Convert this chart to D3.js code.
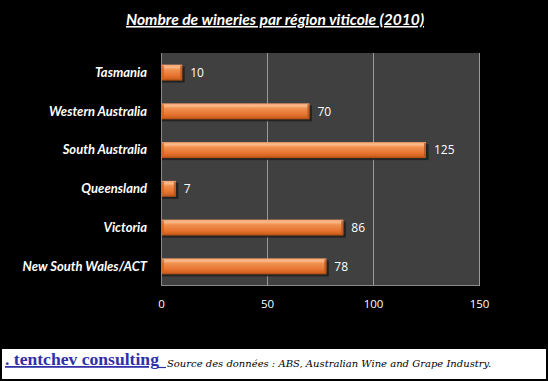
<!DOCTYPE html>
<html><head><meta charset="utf-8">
<script src="https://cdn.jsdelivr.net/npm/d3@7"></script>
<style>html,body{margin:0;padding:0;background:#000;}svg{display:block;}</style>
</head><body>
<script>
const categories = ["Tasmania","Western Australia","South Australia","Queensland","Victoria","New South Wales/ACT"];
const values = [10,70,125,7,86,78];
const tickValues = [0,50,100,150];
const titleText = "Nombre de wineries par région viticole (2010)";
const brandText = ". tentchev consulting";
const sourceText = "Source des données : ABS, Australian Wine and Grape Industry.";

const W=548,H=381;
const svg=d3.select("body").append("svg").attr("width",W).attr("height",H);
svg.append("rect").attr("width",W).attr("height",H).attr("fill","#000");

const defs=svg.append("defs");
const g1=defs.append("linearGradient").attr("id","barg").attr("x1",0).attr("y1",0).attr("x2",0).attr("y2",1);
[[0,"#f4a06a"],[0.15,"#fbba8c"],[0.32,"#f0904f"],[0.7,"#e6732f"],[0.88,"#d2621f"],[1,"#a24813"]].forEach(s=>g1.append("stop").attr("offset",s[0]).attr("stop-color",s[1]));

const x=d3.scaleLinear().domain([0,150]).range([161,479]);
const y=d3.scaleBand().domain(categories).range([53,286]).paddingInner(0.587).paddingOuter(0.3);

// plot area
svg.append("rect").attr("x",x(0)).attr("y",53).attr("width",x(150)-x(0)).attr("height",233).attr("fill","#404040");
// grid
svg.append("g").selectAll("line").data(tickValues.filter(d=>d>0)).join("line")
  .attr("x1",d=>Math.round(x(d))+0.5).attr("x2",d=>Math.round(x(d))+0.5).attr("y1",53).attr("y2",286)
  .attr("stroke","#9a9a9a").attr("stroke-width",1);
svg.append("line").attr("x1",x(0)+0.5).attr("x2",x(0)+0.5).attr("y1",53).attr("y2",286)
  .attr("stroke","#8a8a8a");
svg.append("line").attr("x1",x(0)).attr("x2",x(150)).attr("y1",285.5).attr("y2",285.5)
  .attr("stroke","#8a8a8a");

// bars
const bars=svg.append("g").selectAll("g").data(categories).join("g");
bars.append("rect").attr("x",x(0)+1).attr("y",(d)=>y(d)+2).attr("width",(d,i)=>x(values[i])-x(0)+1.5).attr("height",y.bandwidth())
  .attr("fill","#1e1e1e").attr("opacity",0.85);
bars.append("rect").attr("x",x(0)+1).attr("y",d=>y(d)).attr("width",(d,i)=>x(values[i])-x(0)-1).attr("height",y.bandwidth())
  .attr("fill","url(#barg)");
bars.append("rect").attr("x",(d,i)=>x(values[i])-2).attr("y",d=>y(d)+1).attr("width",2).attr("height",y.bandwidth()-2)
  .attr("fill","#b5541a").attr("opacity",0.8);
bars.append("rect").attr("x",x(0)+1).attr("y",d=>y(d)+1).attr("width",2).attr("height",y.bandwidth()-2)
  .attr("fill","#c9621f").attr("opacity",0.7);
bars.append("text").attr("x",(d,i)=>x(values[i])+8).attr("y",d=>y(d)+y.bandwidth()/2).attr("dy","0.36em")
  .attr("fill","#fff").attr("font-family","Open Sans, DejaVu Sans, sans-serif").attr("font-size",12)
  .text((d,i)=>values[i]);

// y axis labels
const ya=svg.append("g").attr("transform",`translate(${x(0)},0)`).call(d3.axisLeft(y).tickSize(0).tickPadding(14));
ya.select(".domain").remove();
ya.selectAll("text").attr("fill","#fff").attr("font-family","Lato, Open Sans, sans-serif").attr("font-size",13)
  .attr("font-weight","bold").attr("font-style","italic");

// x axis
const xa=svg.append("g").attr("transform","translate(0,286)").call(d3.axisBottom(x).tickValues(tickValues).tickSize(0).tickPadding(14));
xa.select(".domain").remove();
xa.selectAll("text").attr("fill","#fff").attr("font-family","Open Sans, DejaVu Sans, sans-serif").attr("font-size",11.5);

// title
svg.append("text").attr("x",275).attr("y",25).attr("text-anchor","middle").attr("fill","#fff")
  .attr("font-family","Lato, Open Sans, sans-serif").attr("font-size",15.6).attr("font-weight","bold").attr("font-style","italic")
  .attr("text-decoration","underline").text(titleText);

// footer
svg.append("rect").attr("x",2).attr("y",349).attr("width",544).attr("height",30).attr("fill","#fff");
svg.append("text").attr("x",5).attr("y",365).attr("fill","#3030a8")
  .attr("font-family","Liberation Serif, DejaVu Serif, serif").attr("font-size",17.6).attr("font-weight","bold")
  .attr("text-decoration","underline").text(brandText);
svg.append("line").attr("x1",157).attr("x2",166).attr("y1",367.5).attr("y2",367.5).attr("stroke","#3030a8").attr("stroke-width",1.2);
svg.append("text").attr("x",167).attr("y",367).attr("fill","#000")
  .attr("font-family","DejaVu Serif, Liberation Serif, serif").attr("font-size",10).attr("font-style","italic")
  .text(sourceText);
</script>
</body></html>
